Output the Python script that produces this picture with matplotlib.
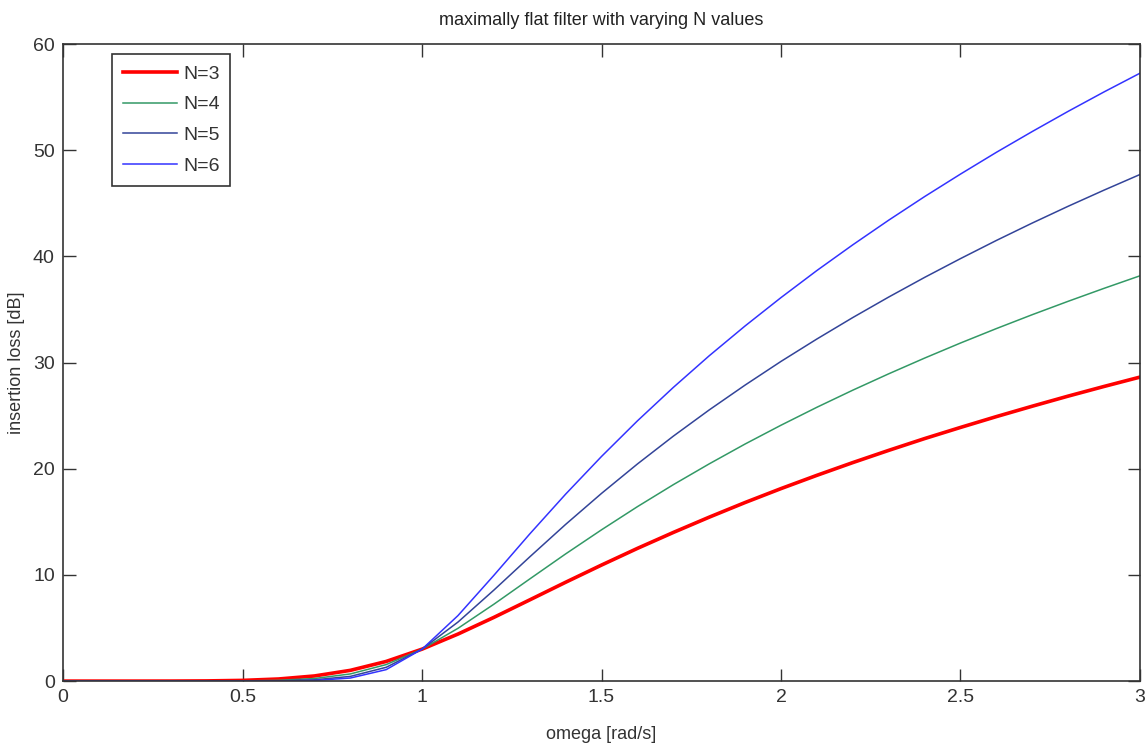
import matplotlib
matplotlib.use("Agg")
import matplotlib.pyplot as plt

plt.rcParams['font.family'] = ['Liberation Sans', 'DejaVu Sans']

# frequency points [rad/s]
omega = [0.0, 0.1, 0.2, 0.3, 0.4, 0.5, 0.6, 0.7, 0.8, 0.9, 1.0,
         1.1, 1.2, 1.3, 1.4, 1.5, 1.6, 1.7, 1.8, 1.9, 2.0,
         2.1, 2.2, 2.3, 2.4, 2.5, 2.6, 2.7, 2.8, 2.9, 3.0]

# insertion loss [dB] per filter order
loss_n3 = [0.0, 0.0, 0.0, 0.003, 0.018, 0.067, 0.198, 0.483, 1.011, 1.851, 3.01,
           4.43, 6.00, 7.65, 9.31, 10.93, 12.50, 14.00, 15.44, 16.82, 18.13,
           19.38, 20.58, 21.73, 22.84, 23.89, 24.91, 25.89, 26.84, 27.75, 28.63]
loss_n4 = [0.0, 0.0, 0.0, 0.0003, 0.003, 0.017, 0.072, 0.243, 0.674, 1.555, 3.01,
           4.97, 7.24, 9.62, 11.98, 14.25, 16.43, 18.50, 20.46, 22.33, 24.10,
           25.79, 27.40, 28.94, 30.42, 31.84, 33.20, 34.51, 35.77, 36.99, 38.17]
loss_n5 = [0.0, 0.0, 0.0, 0.0, 0.0005, 0.004, 0.026, 0.121, 0.443, 1.30, 3.01,
           5.56, 8.57, 11.70, 14.76, 17.68, 20.45, 23.07, 25.54, 27.88, 30.11,
           32.22, 34.24, 36.17, 38.02, 39.79, 41.50, 43.14, 44.72, 46.24, 47.71]
loss_n6 = [0.0, 0.0, 0.0, 0.0, 0.0, 0.001, 0.009, 0.060, 0.288, 1.08, 3.01,
           6.17, 9.96, 13.86, 17.61, 21.16, 24.51, 27.66, 30.64, 33.45, 36.12,
           38.67, 41.09, 43.41, 45.63, 47.75, 49.80, 51.76, 53.66, 55.49, 57.25]

labels = ["N=3", "N=4", "N=5", "N=6"]

fig = plt.figure(figsize=(11.48, 7.46), dpi=100)
ax = fig.add_axes([0.055, 0.087, 0.938, 0.854])

ax.plot(omega, loss_n3, color="#ff0000", linewidth=2.6, label=labels[0])
ax.plot(omega, loss_n4, color="#339966", linewidth=1.1, label=labels[1])
ax.plot(omega, loss_n5, color="#334499", linewidth=1.1, label=labels[2])
ax.plot(omega, loss_n6, color="#3333ff", linewidth=1.1, label=labels[3])

ax.set_xlim(0, 3)
ax.set_ylim(0, 60)
ax.set_xticks([0, 0.5, 1, 1.5, 2, 2.5, 3])
ax.set_xticklabels(["0", "0.5", "1", "1.5", "2", "2.5", "3"])
ax.set_yticks([0, 10, 20, 30, 40, 50, 60])

ax.tick_params(direction="in", length=9, width=1, top=True, right=True,
               labelsize=14, pad=6, colors="#333333")
for sp in ax.spines.values():
    sp.set_color("#333333")
    sp.set_linewidth(1.2)

ax.set_xlabel("omega [rad/s]", fontsize=13, color="#333333", labelpad=14)
ax.set_ylabel("insertion loss [dB]", fontsize=13, color="#333333", labelpad=6)
ax.set_title("maximally flat filter with varying N values", fontsize=13,
             color="#222222", pad=14)

leg = ax.legend(loc="upper left", bbox_to_anchor=(0.0455, 0.984), fontsize=14,
                fancybox=False, edgecolor="#333333", framealpha=1,
                borderaxespad=0, handlelength=2.8, handletextpad=0.3,
                labelspacing=0.68, borderpad=0.55)
leg.get_frame().set_linewidth(1.2)
for t in leg.get_texts():
    t.set_color("#333333")

fig.savefig("out.png", dpi=100)
